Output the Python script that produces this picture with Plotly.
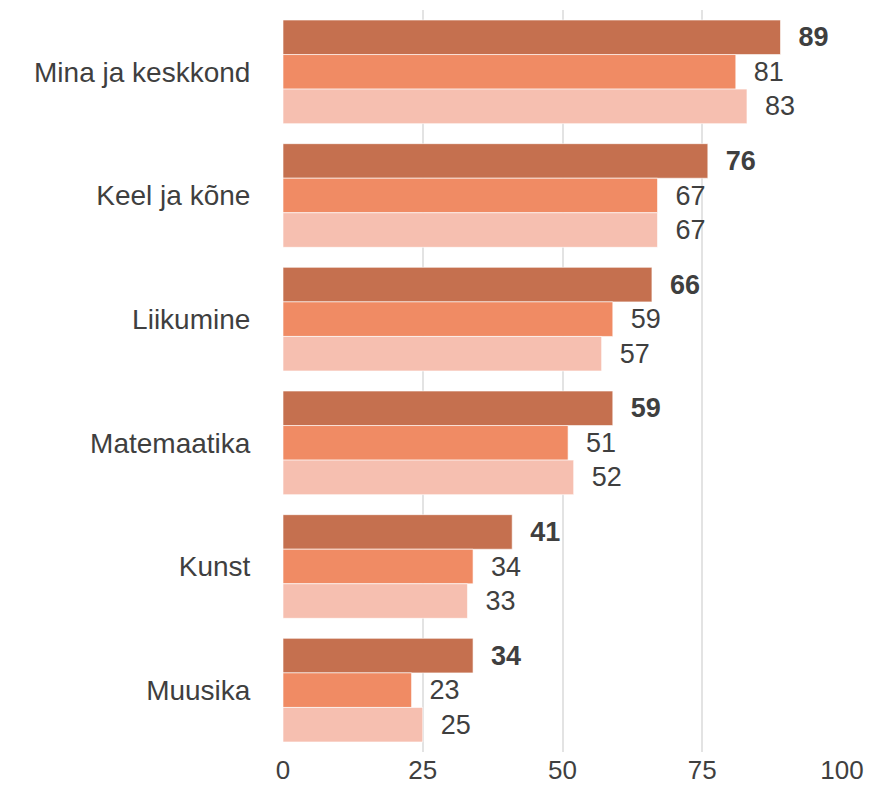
import plotly.graph_objects as go

categories = ["Mina ja keskkond", "Keel ja kõne", "Liikumine", "Matemaatika", "Kunst", "Muusika"]
series_names = ["Rühm 1", "Rühm 2", "Rühm 3"]
series1 = [89, 76, 66, 59, 41, 34]
series2 = [81, 67, 59, 51, 34, 23]
series3 = [83, 67, 57, 52, 33, 25]
tick_vals = [0, 25, 50, 75, 100]

colors = ["#C5704F", "#F08B64", "#F6BFB0"]
bold = [True, False, False]
values = [series1, series2, series3]
FONT = "Liberation Sans, Arial, sans-serif"
TXT = "#3F3F3F"

fig = go.Figure()
for name, vals, col, b in zip(series_names, values, colors, bold):
    tmpl = "\u00a0\u00a0<b>%{x}</b>" if b else "\u00a0\u00a0%{x}"
    fig.add_trace(go.Bar(
        y=categories, x=vals, name=name, orientation="h",
        marker=dict(color=col, line=dict(color="rgba(255,255,255,0.6)", width=1)),
        texttemplate=tmpl, textposition="outside", constraintext="none",
        cliponaxis=False,
        textfont=dict(family=FONT, size=27, color=TXT),
        hoverinfo="x+y+name",
    ))

fig.update_layout(
    width=882, height=783,
    barmode="group", bargap=0.162, bargroupgap=0,
    showlegend=False,
    plot_bgcolor="white", paper_bgcolor="white",
    margin=dict(l=275, r=48, t=2, b=39, autoexpand=False),
    font=dict(family=FONT, size=27, color=TXT),
    xaxis=dict(range=[0, 100], tickvals=tick_vals, showgrid=True, gridcolor="#E3E3E3",
               gridwidth=2, zeroline=False, showline=False, automargin=False,
               ticks="",
               tickfont=dict(family=FONT, size=26, color=TXT)),
    yaxis=dict(autorange="reversed", showgrid=False, zeroline=False, showline=False,
               automargin=False,
               ticks="outside", ticklen=26, tickcolor="rgba(0,0,0,0)",
               tickfont=dict(family=FONT, size=28, color=TXT)),
)

fig.write_html("out.html")
